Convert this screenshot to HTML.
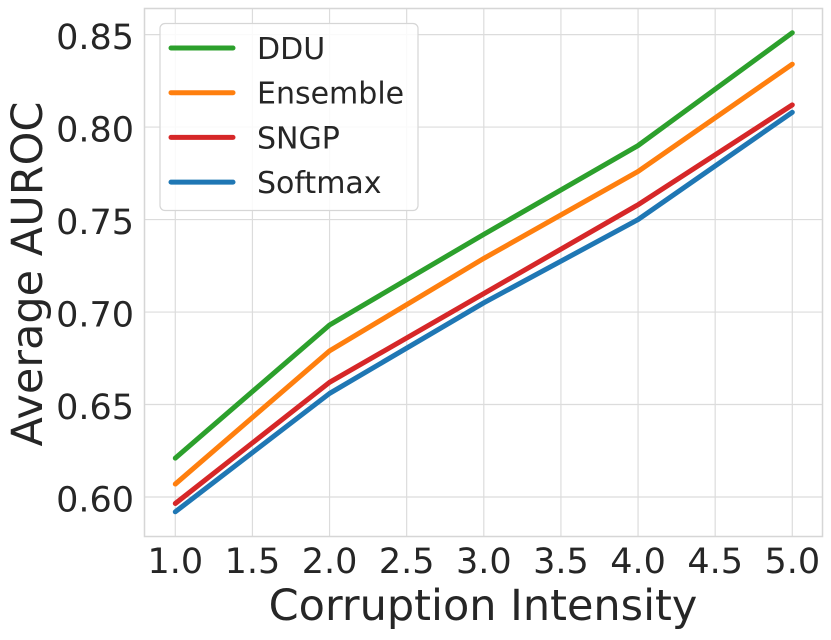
<!DOCTYPE html>
<html><head><meta charset="utf-8"><style>
html,body{margin:0;padding:0;background:#fff;}
svg text{font-family:"DejaVu Sans","Liberation Sans",sans-serif;fill:#262626;}
</style></head><body>
<svg id="chart" width="831" height="635" viewBox="0 0 831 635" xmlns="http://www.w3.org/2000/svg">
<g id="grid"></g>
<rect x="144.5" y="8.5" width="678" height="528" fill="none" stroke="#d6d6d6" stroke-width="1.5"/>
<g id="series"></g>
<g id="ticks"></g>
<text x="483" y="620" font-size="43" text-anchor="middle">Corruption Intensity</text>
<text transform="translate(42,274) rotate(-90)" font-size="43" text-anchor="middle">Average AUROC</text>
<g id="legend">
<rect x="160" y="23.5" width="258" height="187" rx="5" fill="#fff" fill-opacity="0.85" stroke="#d6d6d6" stroke-width="1.2"/>
</g>
</svg>
<script>
const xValues=[1,2,3,4,5];
const seriesNames=["DDU","Ensemble","SNGP","Softmax"];
const ddu=[0.621,0.693,0.742,0.790,0.851];
const ensemble=[0.607,0.679,0.729,0.776,0.834];
const sngp=[0.5965,0.662,0.710,0.758,0.812];
const softmax=[0.592,0.656,0.705,0.750,0.808];
const xTicks=[1.0,1.5,2.0,2.5,3.0,3.5,4.0,4.5,5.0];
const yTicks=[0.60,0.65,0.70,0.75,0.80,0.85];
const colors=["#2ca02c","#ff7f0e","#d62728","#1f77b4"];
const NS="http://www.w3.org/2000/svg";
function xs(v){return 175.3+(v-1)*(792.3-175.3)/4;}
function ys(v){return 497-(v-0.6)*(497-34.6)/0.25;}
function mk(tag,attrs,parent){const e=document.createElementNS(NS,tag);for(const k in attrs)e.setAttribute(k,attrs[k]);parent.appendChild(e);return e;}
const grid=document.getElementById('grid'),ticks=document.getElementById('ticks'),ser=document.getElementById('series'),leg=document.getElementById('legend');
xTicks.forEach(t=>{
 const l=mk('line',{x1:xs(t),x2:xs(t),y1:8.5,y2:536.5,stroke:'#dcdcdc','stroke-width':1.2},grid);
 
 
 const tx=mk('text',{x:xs(t),y:573,'font-size':35,'text-anchor':'middle'},ticks);
 tx.textContent=t.toFixed(1);
 
 
});
yTicks.forEach(t=>{
 const l=mk('line',{x1:144.5,x2:822.5,y1:ys(t),y2:ys(t),stroke:'#dcdcdc','stroke-width':1.2},grid);
 
 
 const tx=mk('text',{x:134,y:ys(t)+14.5,'font-size':35,'text-anchor':'end'},ticks);
 tx.textContent=t.toFixed(2);
 
 
});
const data=[ddu,ensemble,sngp,softmax];
for(let i=data.length-1;i>=0;i--){
 const pts=xValues.map((x,j)=>xs(x)+','+ys(data[i][j])).join(' ');
 const p=mk('polyline',{points:pts,fill:'none',stroke:colors[i],'stroke-width':5,'stroke-linecap':'round','stroke-linejoin':'round'},ser);
 
 
}
seriesNames.forEach((n,i)=>{
 const y=48+i*44.7;
 const l=mk('line',{x1:171,x2:233,y1:y,y2:y,stroke:colors[i],'stroke-width':5,'stroke-linecap':'round'},leg);
 
 
 const t=mk('text',{x:257,y:y+11,'font-size':30},leg);
 t.textContent=n;
 
 
});
</script>
</body></html>
